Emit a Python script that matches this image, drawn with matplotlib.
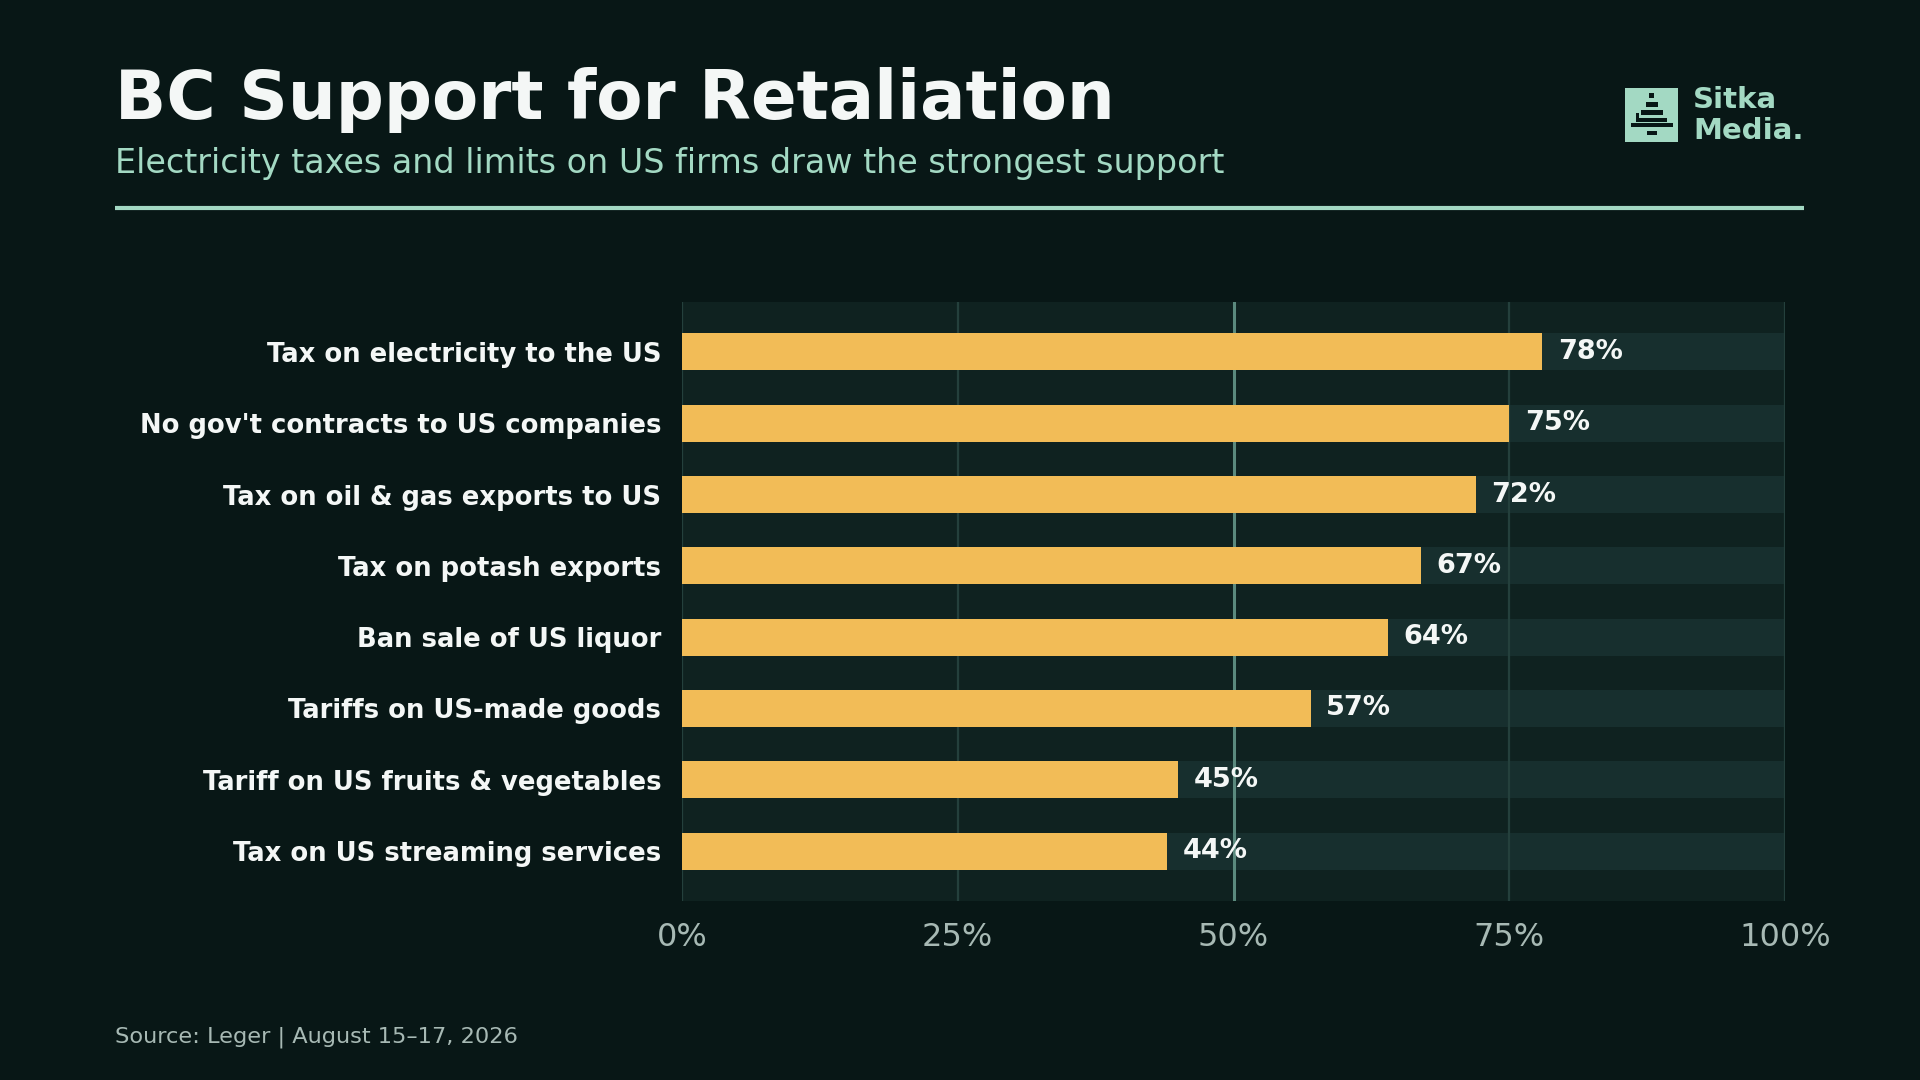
import matplotlib
matplotlib.use("Agg")
import matplotlib.pyplot as plt
from matplotlib.patches import Rectangle

# ---------------- data ----------------
categories = [
    "Tax on electricity to the US",
    "No gov't contracts to US companies",
    "Tax on oil & gas exports to US",
    "Tax on potash exports",
    "Ban sale of US liquor",
    "Tariffs on US-made goods",
    "Tariff on US fruits & vegetables",
    "Tax on US streaming services",
]
support = [78, 75, 72, 67, 64, 57, 45, 44]
xticks = [0, 25, 50, 75, 100]
xtick_labels = ["0%", "25%", "50%", "75%", "100%"]

title = "BC Support for Retaliation"
subtitle = "Electricity taxes and limits on US firms draw the strongest support"
source = "Source: Leger | August 15\u201317, 2026"

# ---------------- style ----------------
BG = "#081716"
AX_BG = "#0f2220"
TRACK = "#172f2e"
BAR = "#f2bc57"
MINT = "#a3d9c3"
WHITE = "#f4f7f6"
GREY = "#a7b9b4"
GRID = "#24403c"
GRID_MID = "#5b8a7e"

W, H = 1920, 1080
fig = plt.figure(figsize=(19.2, 10.8), dpi=100, facecolor=BG)


def fx(px):
    return px / W


def fy(py):
    return 1 - py / H


ax = fig.add_axes([fx(682), fy(901), fx(1785) - fx(682), fy(302) - fy(901)])
ax.set_facecolor(AX_BG)

y = list(range(len(categories)))
ax.barh(y, [100] * len(categories), height=0.52, color=TRACK, zorder=1)
for xv in xticks:
    ax.axvline(xv, color=GRID_MID if xv == 50 else GRID,
               lw=2.2 if xv == 50 else 1.6, zorder=2)
ax.barh(y, support, height=0.52, color=BAR, zorder=3)
for yi, v in zip(y, support):
    ax.text(v + 1.4, yi, f"{v}%", va="center", ha="left", color=WHITE,
            fontsize=19.5, fontweight="bold", zorder=4)

ax.set_xlim(0, 100)
ax.set_ylim(len(categories) - 0.3, -0.7)
ax.set_xticks(xticks)
ax.set_xticklabels(xtick_labels)
ax.set_yticks(y)
ax.set_yticklabels(categories)
ax.tick_params(axis="x", length=0, pad=15, labelsize=23, labelcolor=GREY)
ax.tick_params(axis="y", length=0, pad=15, labelsize=18.6, labelcolor=WHITE)
for lab in ax.get_yticklabels():
    lab.set_fontweight("bold")
for s in ax.spines.values():
    s.set_visible(False)

# ---------------- header ----------------
fig.text(fx(115), fy(119), title, fontsize=48.5, fontweight="bold",
         color=WHITE, va="baseline", ha="left")
fig.text(fx(115), fy(173), subtitle, fontsize=24, color=MINT,
         va="baseline", ha="left")
fig.add_artist(plt.Line2D([fx(115), fx(1804)], [fy(208), fy(208)],
                          color=MINT, lw=3, solid_capstyle="butt",
                          transform=fig.transFigure))

# ---------------- logo ----------------
def prect(x0, y0, x1, y1, color):
    fig.add_artist(Rectangle((fx(x0), fy(y1)), fx(x1) - fx(x0), fy(y0) - fy(y1),
                             color=color, transform=fig.transFigure, lw=0))

prect(1625, 88, 1678, 142, MINT)
prect(1649, 93, 1654, 98, BG)
prect(1646, 102, 1658, 107, BG)
prect(1641, 110, 1663, 115, BG)
prect(1636, 113, 1639, 121, BG)
prect(1636, 118, 1667, 122, BG)
prect(1631, 123, 1673, 127, BG)
prect(1647, 131, 1657, 135, BG)

fig.text(fx(1693), fy(108), "Sitka", fontsize=21, fontweight="bold",
         color=MINT, va="baseline", ha="left")
fig.text(fx(1693), fy(139), "Media.", fontsize=21, fontweight="bold",
         color=MINT, va="baseline", ha="left")

# ---------------- footer ----------------
fig.text(fx(115), fy(1043), source, fontsize=16.2, color=GREY,
         va="baseline", ha="left")

fig.savefig("out.png", dpi=100, facecolor=BG)
